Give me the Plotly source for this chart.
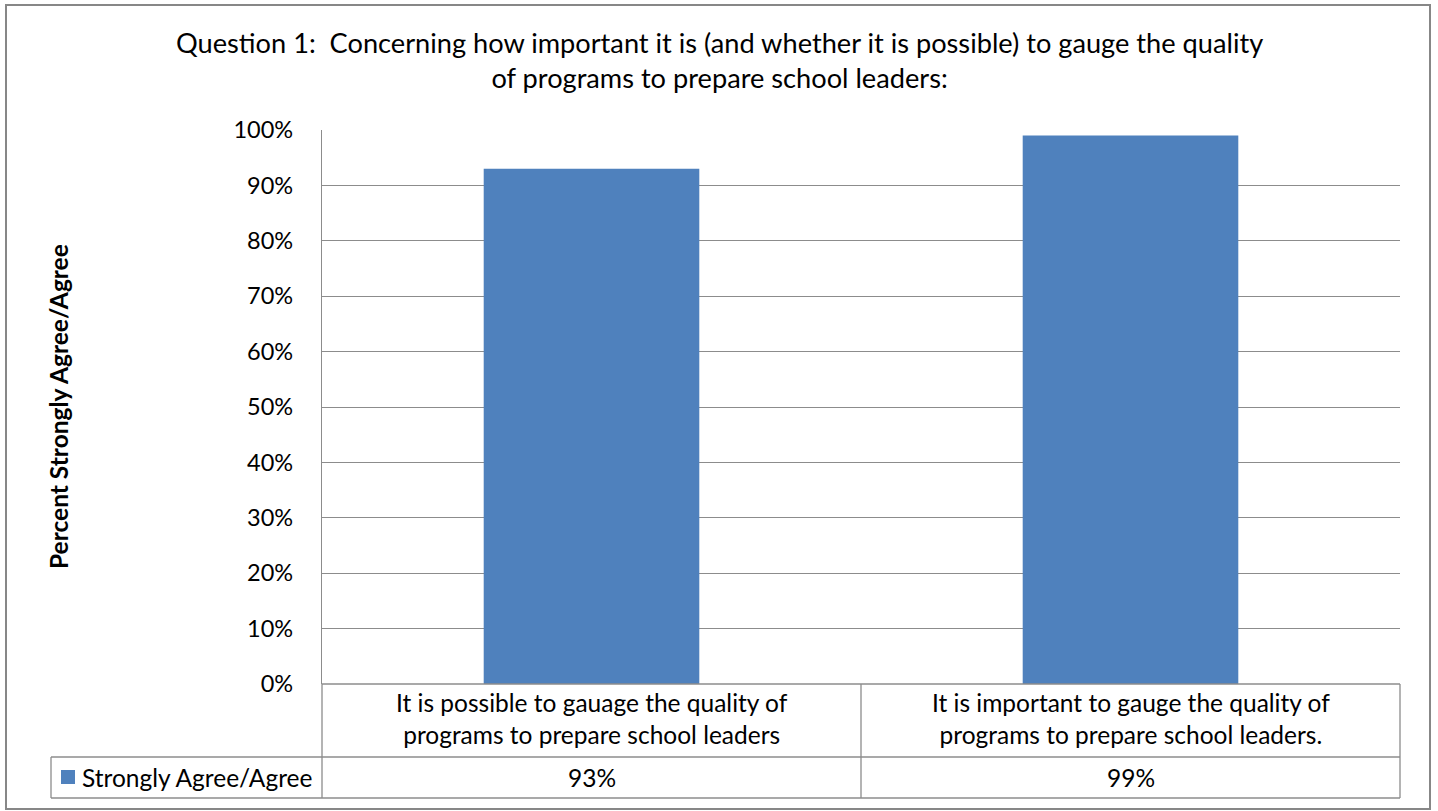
import plotly.graph_objects as go

categories = [
    "It is possible to gauage the quality of<br>programs to prepare school leaders",
    "It is important to gauge the quality of<br>programs to prepare school leaders.",
]
series_name = "Strongly Agree/Agree"
values = [0.93, 0.99]
y_ticks = [0, 0.1, 0.2, 0.3, 0.4, 0.5, 0.6, 0.7, 0.8, 0.9, 1.0]

title_lines = [
    "Question 1:&nbsp; Concerning how important it is (and whether it is possible) to gauge the quality",
    "of programs to prepare school leaders:",
]
y_title = "Percent Strongly Agree/Agree"

FONT = "Lato"
BAR = "#4F81BD"
GRID = "#8C8C8C"

W, H = 1438, 811
L, R, T, B = 322, 38, 130, 127
pw, ph = W - L - R, H - T - B


def px2x(px):
    return (px - L) / pw


def py2y(py):
    return (H - B - py) / ph


fig = go.Figure()
fig.add_trace(go.Bar(
    x=categories, y=values, name=series_name,
    marker=dict(color=BAR, line=dict(width=0)),
    width=0.4, showlegend=False,
))

shapes = []
lc = dict(color=GRID, width=1.3)


def line(x0, y0, x1, y1):
    shapes.append(dict(type="line", xref="paper", yref="paper",
                       x0=px2x(x0), y0=py2y(y0), x1=px2x(x1), y1=py2y(y1), line=lc))


# Data table lines
row1_bot = 757
row2_bot = 798
line(322, 684, 1400, 684)
line(51, row1_bot, 1400, row1_bot)
line(51, row2_bot, 1400, row2_bot)
line(322, 684, 322, row2_bot)
line(861, 684, 861, row2_bot)
line(1400, 684, 1400, row2_bot)
line(51, row1_bot, 51, row2_bot)

# Outer chart border
shapes.append(dict(type="rect", xref="paper", yref="paper",
                   x0=px2x(6), y0=py2y(809), x1=px2x(1430), y1=py2y(5),
                   line=dict(color="#878787", width=2), fillcolor="rgba(0,0,0,0)", layer="below"))

# Legend key in table
shapes.append(dict(type="rect", xref="paper", yref="paper",
                   x0=px2x(61), y0=py2y(784), x1=px2x(75), y1=py2y(770),
                   line=dict(width=0), fillcolor=BAR))

CAT_SIZE = 24.5
annotations = []
for c, v in zip(categories, values):
    annotations.append(dict(x=c, xref="x", y=py2y(718), yref="paper", text=c,
                            showarrow=False, font=dict(family=FONT, size=CAT_SIZE, color="black"),
                            xanchor="center", yanchor="middle", align="center", borderpad=0))
    annotations.append(dict(x=c, xref="x", y=py2y(777), yref="paper", text=f"{round(v*100)}%",
                            showarrow=False, font=dict(family=FONT, size=CAT_SIZE, color="black"),
                            xanchor="center", yanchor="middle", borderpad=0))

annotations.append(dict(x=px2x(81), xref="paper", y=py2y(777), yref="paper", text=series_name,
                        showarrow=False, font=dict(family=FONT, size=CAT_SIZE, color="black"),
                        xanchor="left", yanchor="middle", borderpad=0))

annotations.append(dict(x=px2x(58), xref="paper", y=py2y(407), yref="paper", text=f"<b>{y_title}</b>",
                        textangle=-90, showarrow=False,
                        font=dict(family=FONT, size=24.5, color="black"),
                        xanchor="center", yanchor="middle", borderpad=0))

annotations.append(dict(x=px2x(719), xref="paper", y=py2y(60), yref="paper",
                        text="<br>".join(title_lines),
                        showarrow=False, font=dict(family=FONT, size=27.2, color="black"),
                        xanchor="center", yanchor="middle", align="center", borderpad=0))

fig.update_layout(
    width=W, height=H,
    margin=dict(l=L, r=R, t=T, b=B),
    paper_bgcolor="white", plot_bgcolor="white",
    font=dict(family=FONT, size=24, color="black"),
    bargap=0.6,
    shapes=shapes,
    annotations=annotations,
    xaxis=dict(showticklabels=False, showgrid=False, zeroline=False, showline=False, ticks=""),
    yaxis=dict(range=[0, 1], tickvals=y_ticks, tickformat=".0%", showgrid=True,
               gridcolor=GRID, gridwidth=1.3, zeroline=False, showline=True,
               linecolor=GRID, linewidth=1.3, ticks="", ticklabelstandoff=23,
               tickfont=dict(family=FONT, size=23.5, color="black")),
)

fig.write_html("out.html", config={"displayModeBar": False},
               post_script="document.body.style.margin='0';")
